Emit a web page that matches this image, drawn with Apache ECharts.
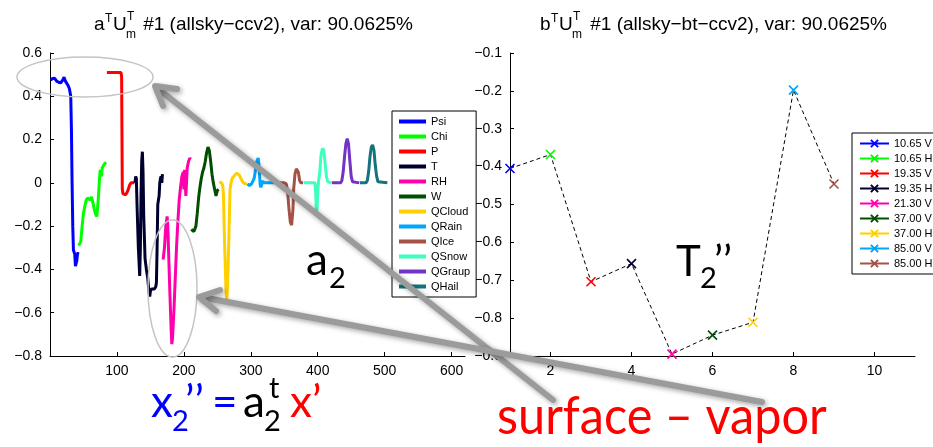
<!DOCTYPE html>
<html>
<head>
<meta charset="utf-8">
<script src="https://cdn.jsdelivr.net/npm/echarts@6/dist/echarts.min.js"></script>
<style>
  html, body { margin: 0; padding: 0; background: #fff; }
  #chart { width: 933px; height: 447px; }
</style>
</head>
<body>
<div id="chart"></div>
<script>
// left panel: one curve per model variable, [index, value]
const varNames = ['Psi', 'Chi', 'P', 'T', 'RH', 'W', 'QCloud', 'QRain', 'QIce', 'QSnow', 'QGraup', 'QHail'];
const varColors = ['#0000ff', '#00ff00', '#ff0000', '#00002e', '#ff00aa', '#004f00',
                   '#ffd000', '#00a6ff', '#a45246', '#3dffbe', '#7134c4', '#14737c'];

const psi = [[1,0.475],[4,0.482],[7,0.483],[10,0.47],[13,0.465],[16,0.462],[19,0.475],[21,0.488],[23,0.47],
  [25,0.465],[27,0.45],[29,0.435],[31,0.40],[32,0.25],[33,0.0],[34,-0.2],[35,-0.31],[36,-0.32],[37,-0.33],
  [38,-0.385],[39,-0.38],[40,-0.36],[41,-0.33],[42,-0.32]];
const chi = [[43,-0.29],[46,-0.27],[48,-0.2],[50,-0.14],[52,-0.11],[54,-0.08],[56,-0.07],[58,-0.075],[60,-0.08],
  [62,-0.065],[64,-0.09],[66,-0.12],[68,-0.145],[70,-0.155],[72,-0.08],[73,-0.03],[74,0.02],[75,0.06],[76,0.065],
  [77,0.03],[78,0.07],[80,0.08],[82,0.09],[84,0.095]];
const pres = [[85,0.51],[90,0.51],[95,0.51],[100,0.51],[106,0.51],[107,0.49],[108,-0.03],[109,-0.05],[111,-0.055],
  [113,-0.055],[115,-0.045],[117,-0.03],[119,-0.01],[121,0.0],[123,0.003],[126,0.0]];
const temp = [[127,0.0],[128,0.03],[129,0.02],[130,-0.1],[132,-0.3],[134,-0.43],[135,-0.3],[136,-0.05],[137,0.1],
  [138,0.144],[139,0.05],[140,-0.15],[142,-0.35],[144,-0.40],[146,-0.44],[148,-0.51],[149,-0.525],[150,-0.5],
  [152,-0.49],[154,-0.485],[156,-0.49],[158,-0.48],[159,-0.46],[160,-0.3],[161,-0.1],[162,-0.08],[163,-0.06],
  [164,0.0],[165,0.02],[166,0.03],[167,0.0],[168,0.04]];
const rh = [[169,-0.355],[171,-0.3],[173,-0.2],[175,-0.155],[176,-0.2],[177,-0.3],[179,-0.5],[181,-0.68],
  [182,-0.745],[183,-0.72],[185,-0.6],[187,-0.45],[189,-0.3],[191,-0.18],[193,-0.08],[195,-0.02],[197,0.03],
  [199,0.05],[200,-0.03],[201,0.06],[203,-0.06],[205,0.07],[207,0.1],[209,0.115],[210,0.11]];
const wind = [[211,-0.215],[213,-0.22],[215,-0.225],[217,-0.22],[218,-0.2],[220,-0.14],[222,-0.07],[224,-0.02],
  [226,0.02],[228,0.05],[230,0.07],[232,0.1],[234,0.14],[236,0.165],[238,0.15],[240,0.1],[242,0.04],[244,0.0],
  [246,-0.03],[248,-0.06],[250,-0.035],[252,-0.03]];
const qcloud = [[253,0.005],[256,0.0],[258,-0.01],[259,-0.05],[261,-0.3],[263,-0.5],[264,-0.54],[265,-0.5],
  [267,-0.28],[269,-0.03],[271,0.01],[273,0.025],[276,0.035],[279,0.045],[281,0.045],[283,0.035],[286,0.015],
  [289,0.0],[292,-0.005],[294,0.0]];
const qrain = [[295,-0.005],[298,-0.012],[301,-0.005],[303,0.0],[305,0.02],[307,0.06],[309,0.1],[311,0.115],
  [312,0.09],[313,0.04],[314,-0.01],[315,-0.02],[316,-0.02],[317,0.0],[318,0.01],[319,0.0],[321,0.0],[336,0.0]];
const qice = [[337,0.0],[350,0.0],[353,-0.005],[355,-0.04],[357,-0.12],[359,-0.18],[361,-0.195],[363,-0.12],
  [364,-0.03],[366,0.04],[368,0.065],[370,0.068],[371,0.05],[373,0.01],[375,0.0],[378,0.0]];
const qsnow = [[379,0.0],[385,0.0],[390,0.0],[396,0.0],[397,-0.05],[398,-0.14],[399,-0.12],[400,-0.05],[401,0.0],
  [403,0.05],[405,0.13],[407,0.16],[409,0.15],[411,0.09],[413,0.03],[415,0.005],[417,0.0],[420,0.0]];
const qgraup = [[421,0.0],[434,0.0],[436,0.01],[438,0.05],[440,0.12],[442,0.18],[444,0.205],[446,0.18],
  [448,0.1],[450,0.03],[452,0.005],[454,0.0],[462,0.0]];
const qhail = [[463,0.0],[472,0.0],[474,0.01],[476,0.05],[478,0.12],[480,0.165],[482,0.175],[484,0.15],
  [486,0.08],[488,0.03],[490,0.005],[492,0.0],[504,0.0]];
const varData = [psi, chi, pres, temp, rh, wind, qcloud, qrain, qice, qsnow, qgraup, qhail];

// right panel: one value per channel
const chanNames = ['10.65 V', '10.65 H', '19.35 V', '19.35 H', '21.30 V', '37.00 V', '37.00 H', '85.00 V', '85.00 H'];
const chanX = [1, 2, 3, 4, 5, 6, 7, 8, 9];
const chanVals = [-0.405, -0.368, -0.704, -0.656, -0.895, -0.845, -0.811, -0.198, -0.446];
const chanColors = varColors.slice(0, 9);

const leftXTicks = [100, 200, 300, 400, 500, 600];
const rightXTicks = [2, 4, 6, 8, 10];

const FONT = 'Liberation Sans';
const BIG = 'Lato';

function minus(v) {
  return String(Number(v.toFixed(2))).replace('-', '\u2212');
}

function axisBase() {
  return {
    axisLine: { onZero: false, lineStyle: { color: '#000', width: 1 } },
    axisTick: { inside: true, length: 4, lineStyle: { color: '#000' } },
    splitLine: { show: false },
    axisLabel: { color: '#000', fontSize: 14, fontFamily: FONT, formatter: minus }
  };
}

const chart = echarts.init(document.getElementById('chart'));

const series = [];
varNames.forEach((name, i) => {
  series.push({
    type: 'line', name: name, xAxisIndex: 0, yAxisIndex: 0,
    data: varData[i], symbol: 'none', showSymbol: false,
    lineStyle: { width: 3, color: varColors[i] },
    itemStyle: { color: varColors[i] },
    animation: false
  });
});
series.push({
  type: 'line', name: 'path', xAxisIndex: 1, yAxisIndex: 1,
  data: chanX.map((x, i) => [x, chanVals[i]]),
  symbol: 'none', lineStyle: { color: '#000', width: 1, type: [4, 3] },
  z: 1, animation: false
});
chanNames.forEach((name, i) => {
  series.push({
    type: 'line', name: name, xAxisIndex: 1, yAxisIndex: 1,
    data: [[chanX[i], chanVals[i]]],
    symbol: 'path://M0,0L10,10M10,0L0,10', symbolSize: 9,
    itemStyle: { color: chanColors[i], borderColor: chanColors[i], borderWidth: 1.6 },
    lineStyle: { color: chanColors[i], width: 1.5 },
    clip: false, z: 3, animation: false
  });
});

function txt(text, x, y, size, color, family, align, extra) {
  const a = align || 'left';
  return Object.assign({
    type: 'text', x: x, y: y, z: 50,
    style: { text: text, fill: color, fontSize: size, fontFamily: family,
             textAlign: a, textVerticalAlign: 'middle', align: a, verticalAlign: 'middle' }
  }, extra || {});
}

const arrowStyle = {
  stroke: '#9b9b9b', lineWidth: 6, lineCap: 'round', lineJoin: 'round', fill: 'none',
  shadowBlur: 5, shadowColor: 'rgba(0,0,0,0.35)', shadowOffsetX: 2, shadowOffsetY: 2
};

const graphics = [
  // titles
  txt('a', 94, 25, 19, '#000', FONT),
  txt('T', 105, 19, 12, '#000', FONT),
  txt('U', 113, 25, 19, '#000', FONT),
  txt('T', 127, 17, 12, '#000', FONT),
  txt('m', 126, 35, 12, '#000', FONT),
  txt('#1 (allsky\u2212ccv2), var: 90.0625%', 413, 25, 19, '#000', FONT, 'right'),
  txt('b', 540, 25, 19, '#000', FONT),
  txt('T', 551, 19, 12, '#000', FONT),
  txt('U', 559, 25, 19, '#000', FONT),
  txt('T', 573, 17, 12, '#000', FONT),
  txt('m', 572, 35, 12, '#000', FONT),
  txt('#1 (allsky\u2212bt\u2212ccv2), var: 90.0625%', 887, 25, 19, '#000', FONT, 'right'),
  // annotations
  txt('a', 306, 261, 44, '#000', BIG),
  txt('2', 329, 279, 29, '#000', BIG),
  txt('T', 676, 262, 42, '#000', BIG),
  txt('2', 700, 279, 29, '#000', BIG),
  txt('\u2019\u2019', 714, 262, 42, '#000', BIG),
  txt('x', 151, 403, 44, '#0000ff', BIG),
  txt('2', 172, 422, 29, '#0000ff', BIG),
  txt('\u2019\u2019', 185, 403, 44, '#0000ff', BIG),
  txt('=', 212, 403, 44, '#0000ff', BIG),
  txt('a', 243, 403, 44, '#000', BIG),
  txt('2', 264, 422, 29, '#000', BIG),
  txt('t', 269, 389, 29, '#000', BIG),
  txt('x\u2019', 290, 403, 44, '#ff0000', BIG),
  txt('surface \u2013 vapor', 497, 417, 52, '#ff0000', BIG, 'left',
      { scaleX: 0.935, originX: 0, originY: 0 }),
  // ellipses
  { type: 'ellipse', z: 40, shape: { cx: 85, cy: 77, rx: 68, ry: 20 },
    style: { fill: 'none', stroke: '#c4c4c4', lineWidth: 1.5 } },
  { type: 'ellipse', z: 40, shape: { cx: 172.5, cy: 288.5, rx: 24.5, ry: 68.5 },
    style: { fill: 'none', stroke: '#c4c4c4', lineWidth: 1.5 } },
  // arrows
  { type: 'line', z: 60, shape: { x1: 553, y1: 400, x2: 157, y2: 88 }, style: arrowStyle },
  { type: 'polyline', z: 60, shape: { points: [[177, 89], [155, 86], [163, 106]] }, style: arrowStyle },
  { type: 'line', z: 60, shape: { x1: 762, y1: 402, x2: 201, y2: 297 }, style: arrowStyle },
  { type: 'polyline', z: 60, shape: { points: [[220, 290], [199, 297], [216, 311]] }, style: arrowStyle }
];

chart.setOption({
  animation: false,
  backgroundColor: '#fff',
  grid: [
    { left: 50, top: 53, width: 415, height: 303 },
    { left: 510, top: 53, width: 405, height: 303 }
  ],
  xAxis: [
    Object.assign(axisBase(), {
      type: 'value', gridIndex: 0, min: 0, max: 620,
      axisLabel: { color: '#000', fontSize: 14, fontFamily: FONT, margin: 8, customValues: leftXTicks },
      axisTick: { inside: true, length: 4, lineStyle: { color: '#000' }, customValues: leftXTicks }
    }),
    Object.assign(axisBase(), {
      type: 'value', gridIndex: 1, min: 1, max: 11,
      axisLabel: { color: '#000', fontSize: 14, fontFamily: FONT, margin: 8, customValues: rightXTicks },
      axisTick: { inside: true, length: 4, lineStyle: { color: '#000' }, customValues: rightXTicks }
    })
  ],
  yAxis: [
    Object.assign(axisBase(), { type: 'value', gridIndex: 0, min: -0.8, max: 0.6, interval: 0.2 }),
    Object.assign(axisBase(), { type: 'value', gridIndex: 1, min: -0.9, max: -0.1, interval: 0.1 })
  ],
  legend: [
    {
      data: varNames, orient: 'vertical', left: 392, top: 111,
      itemWidth: 27, itemHeight: 4, itemGap: 4, icon: 'rect',
      padding: [5, 6, 5, 7], borderColor: '#000', borderWidth: 1, backgroundColor: '#fff',
      textStyle: { fontSize: 11, fontFamily: FONT, color: '#000' }, selectedMode: false
    },
    {
      data: chanNames, orient: 'vertical', left: 852, top: 133,
      itemWidth: 29, itemHeight: 9, itemGap: 4,
      padding: [5, 6, 5, 7], borderColor: '#000', borderWidth: 1, backgroundColor: '#fff',
      textStyle: { fontSize: 11, fontFamily: FONT, color: '#000' }, selectedMode: false
    }
  ],
  series: series,
  graphic: graphics
});
</script>
</body>
</html>
